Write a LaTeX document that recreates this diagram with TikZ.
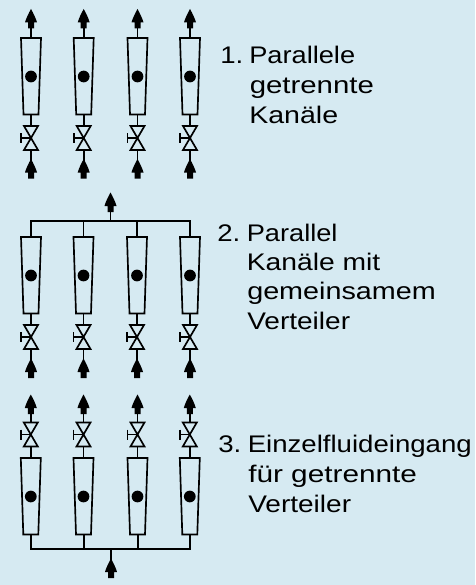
\documentclass[tikz,border=0pt]{standalone}
\usepackage{graphicx}
\usepackage{fontspec}
\setmainfont{Liberation Sans}
\definecolor{bgc}{HTML}{D6EAF2}
\newcommand{\wide}[2]{\scalebox{#1}[1]{#2}}
\tikzset{
  x=0.75pt,y=-0.75pt,
  pipe/.style={line width=1.25pt,black},
  tube/.style={line width=1.25pt,black,fill=bgc},
  lbl/.style={anchor=base west,inner sep=0pt,font=\fontsize{18pt}{18pt}\selectfont,text=black},
  arrowup/.pic={\fill[black] (-3,0) -- (-3,-6) -- (-6,-6) .. controls (-5,-10) and (-2,-16) .. (0,-19.5) .. controls (2,-16) and (5,-10) .. (6,-6) -- (3,-6) -- (3,0) -- cycle;},
  tubeshape/.pic={
    \draw[tube] (-10,0) -- (10,0) -- (7.5,76.5) -- (-7.5,76.5) -- cycle;
    \fill[black] (0,38.5) circle[radius=4.4pt];},
  valveshape/.pic={
    \draw[tube,line join=miter] (-7,0) -- (7,0) -- (-7,24) -- (7,24) -- cycle;
    \draw[pipe] (0,12) -- (-10,12) (-10,7) -- (-10,17);}
}
\begin{document}
\begin{tikzpicture}
\fill[bgc] (0,0) rectangle (475,585);
\useasboundingbox (0,0) rectangle (475,585);
% group 1
\foreach \xx in {31,83.7,137.5,190}{
  \draw[pipe] (\xx,26) -- (\xx,165);
  \pic at (\xx,28.5) {arrowup};
  \pic at (\xx,38) {tubeshape};
  \pic at (\xx,126) {valveshape};
  \pic at (\xx,178.5) {arrowup};
}
% group 2
\coordinate (h2l) at (31,221);
\coordinate (h2r) at (190,221);
\foreach \xx in {31,83.5,137,190}{
  \draw[pipe] (\xx,221) -- (\xx,365);
  \pic at (\xx,237) {tubeshape};
  \pic at (\xx,325) {valveshape};
  \pic at (\xx,378) {arrowup};
}
\draw[pipe,line cap=rect] (h2l) -- (h2r);
\coordinate (o2) at (110.5,221);
\draw[pipe] (o2) -- ++(0,-10);
\pic at (110.5,212) {arrowup};
% group 3
\foreach \xx in {30.8,83.5,137.5,189.8}{
  \draw[pipe] (\xx,400) -- (\xx,458);
  \draw[pipe] (\xx+0.5,535) -- (\xx+0.5,549);
  \pic at (\xx,414) {arrowup};
  \pic at (\xx,422.5) {valveshape};
  \pic at (\xx,458) {tubeshape};
}
\coordinate (h3l) at (31.3,549);
\coordinate (h3r) at (190.3,549);
\draw[pipe,line cap=rect] (h3l) -- (h3r);
\coordinate (i3) at (111,549);
\draw[pipe] (i3) -- ++(0,14);
\pic at (111,578) {arrowup};
% labels
\node[lbl] (n1) at (220,64) {\wide{1.15}{1.}};
\node[lbl] (t1a) at (249,64) {\wide{1.134}{Parallele}};
\node[lbl] (t1b) at (249.5,93.5) {\wide{1.224}{getrennte}};
\node[lbl] (t1c) at (249,123) {\wide{1.19}{Kanäle}};
\node[lbl] (n2) at (217,241) {\wide{1.15}{2.}};
\node[lbl] (t2a) at (246.5,241) {\wide{1.134}{Parallel}};
\node[lbl] (t2b) at (246.5,270) {\wide{1.178}{Kanäle mit}};
\node[lbl] (t2c) at (247,299) {\wide{1.198}{gemeinsamem}};
\node[lbl] (t2d) at (247,329) {\wide{1.168}{Verteiler}};
\node[lbl] (n3) at (218,452) {\wide{1.15}{3.}};
\node[lbl] (t3a) at (247.5,452) {\wide{1.15}{Einzelfluideingang}};
\node[lbl] (t3b) at (248,482) {\wide{1.24}{für getrennte}};
\node[lbl] (t3c) at (248,512) {\wide{1.168}{Verteiler}};
\end{tikzpicture}
\end{document}
